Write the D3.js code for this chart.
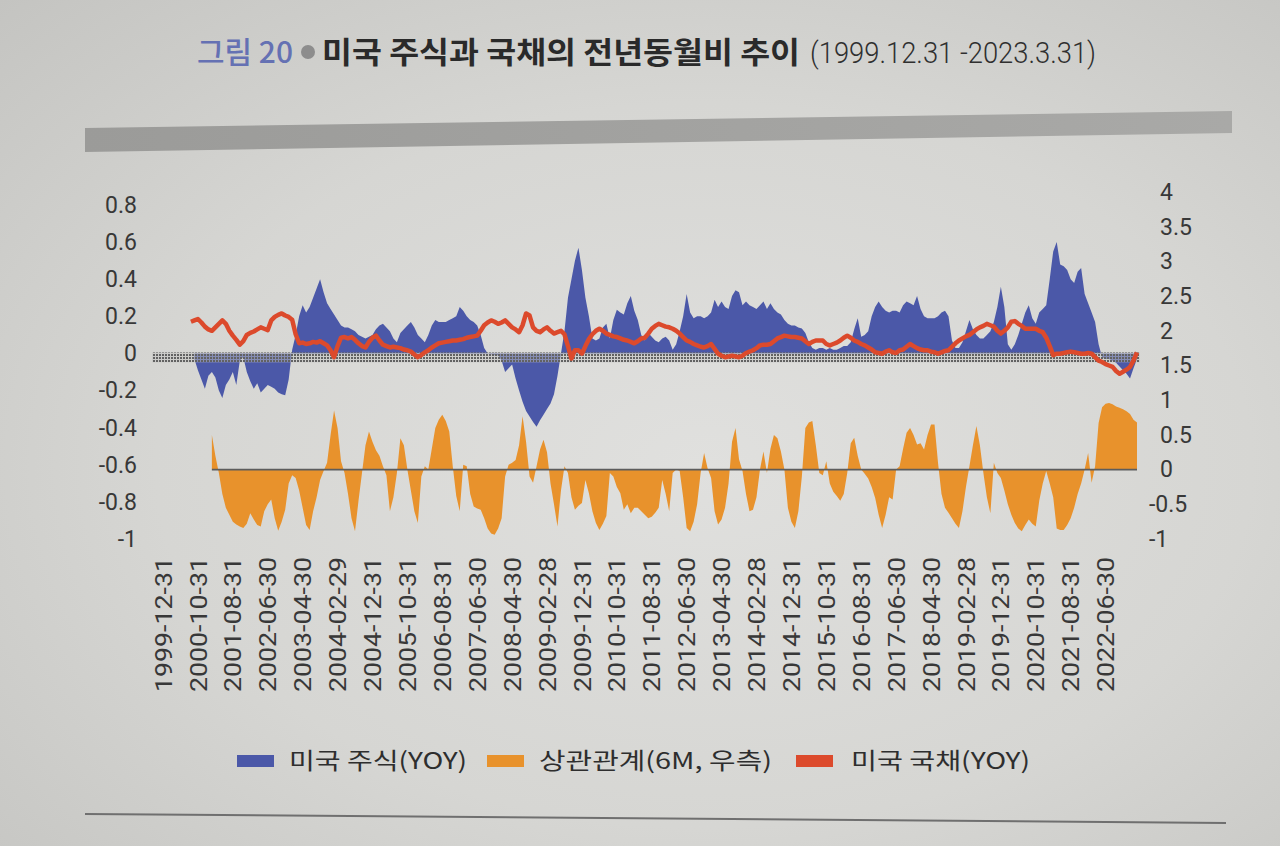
<!DOCTYPE html>
<html>
<head>
<meta charset="utf-8">
<script src="https://cdn.jsdelivr.net/npm/d3@7"></script>
<style>
  html, body { margin: 0; padding: 0; }
  body {
    width: 1280px; height: 846px; overflow: hidden;
    background: radial-gradient(ellipse at 55% 55%, #e0e0de 0%, #d6d6d3 55%, #c4c4c1 100%);
  }
  svg { display: block; }
</style>
</head>
<body>
<svg id="chart" width="1280" height="846"></svg>
<script>
// ---------- data (monthly, 1999-12 .. 2023-03, 280 points) ----------
const startMonth = "1999-12";
const monthCount = 280;

const tickLabels = [
  "1999-12-31", "2000-10-31", "2001-08-31", "2002-06-30", "2003-04-30", "2004-02-29",
  "2004-12-31", "2005-10-31", "2006-08-31", "2007-06-30", "2008-04-30", "2009-02-28",
  "2009-12-31", "2010-10-31", "2011-08-31", "2012-06-30", "2013-04-30", "2014-02-28",
  "2014-12-31", "2015-10-31", "2016-08-31", "2017-06-30", "2018-04-30", "2019-02-28",
  "2019-12-31", "2020-10-31", "2021-08-31", "2022-06-30"
];

const leftTicks = [0.8, 0.6, 0.4, 0.2, 0, -0.2, -0.4, -0.6, -0.8, -1];
const rightTicks = [4, 3.5, 3, 2.5, 2, 1.5, 1, 0.5, 0, -0.5, -1];

// 미국 주식(YOY), left axis
const stockYoY = [
  null, null, null, null, null, null, null, null, null, -0.03,
  -0.09, -0.14, -0.19, -0.12, -0.10, -0.13, -0.20, -0.24, -0.17, -0.14,
  -0.10, -0.17, -0.04, -0.02, -0.10, -0.15, -0.19, -0.16, -0.21, -0.19,
  -0.17, -0.18, -0.19, -0.21, -0.22, -0.225, -0.14, 0.02, 0.10, 0.20,
  0.26, 0.22, 0.25, 0.30, 0.35, 0.40, 0.33, 0.27, 0.24, 0.21,
  0.18, 0.15, 0.14, 0.14, 0.13, 0.12, 0.10, 0.09, 0.08, 0.09,
  0.10, 0.13, 0.15, 0.16, 0.14, 0.12, 0.08, 0.06, 0.11, 0.13,
  0.15, 0.17, 0.14, 0.10, 0.08, 0.06, 0.10, 0.15, 0.18, 0.17,
  0.17, 0.17, 0.18, 0.19, 0.20, 0.25, 0.23, 0.20, 0.18, 0.17,
  0.15, 0.10, 0.03, 0.00, -0.005, -0.01, -0.01, -0.04, -0.10, -0.08,
  -0.06, -0.135, -0.20, -0.26, -0.31, -0.34, -0.37, -0.395, -0.36, -0.33,
  -0.30, -0.27, -0.22, -0.12, 0.00, 0.12, 0.30, 0.40, 0.50, 0.57,
  0.45, 0.30, 0.20, 0.08, 0.07, 0.08, 0.14, 0.16, 0.08, 0.18,
  0.235, 0.22, 0.21, 0.27, 0.31, 0.23, 0.18, 0.10, 0.07, 0.11,
  0.09, 0.07, 0.06, 0.08, 0.09, 0.07, 0.02, 0.05, 0.12, 0.20,
  0.32, 0.22, 0.19, 0.20, 0.20, 0.19, 0.20, 0.22, 0.29, 0.25,
  0.28, 0.25, 0.24, 0.31, 0.34, 0.33, 0.26, 0.28, 0.26, 0.25,
  0.24, 0.26, 0.28, 0.24, 0.27, 0.24, 0.22, 0.21, 0.18, 0.16,
  0.15, 0.15, 0.14, 0.135, 0.11, 0.06, 0.03, 0.02, 0.03, 0.03,
  0.02, 0.03, 0.02, 0.02, 0.03, 0.04, 0.04, 0.06, 0.13, 0.19,
  0.09, 0.10, 0.12, 0.20, 0.25, 0.28, 0.25, 0.23, 0.22, 0.23,
  0.23, 0.22, 0.26, 0.28, 0.27, 0.26, 0.31, 0.24, 0.20, 0.19,
  0.19, 0.19, 0.20, 0.22, 0.23, 0.20, 0.07, 0.03, 0.03, 0.06,
  0.12, 0.18, 0.13, 0.10, 0.08, 0.08, 0.10, 0.12, 0.17, 0.25,
  0.36, 0.25, 0.05, 0.02, 0.05, 0.10, 0.16, 0.22, 0.26, 0.19,
  0.16, 0.22, 0.24, 0.26, 0.40, 0.55, 0.60, 0.48, 0.47, 0.45,
  0.40, 0.38, 0.44, 0.46, 0.32, 0.27, 0.22, 0.17, 0.05, -0.02,
  -0.03, -0.03, -0.04, -0.05, -0.07, -0.09, -0.11, -0.135, -0.08, -0.03
];

// 상관관계(6M, 우측), right axis
const corr6M = [
  null, null, null, null, null, null, null, null, null, null,
  null, null, null, null, 0.50, 0.20, -0.05, -0.35, -0.55, -0.65,
  -0.75, -0.79, -0.82, -0.84, -0.78, -0.63, -0.72, -0.80, -0.82, -0.60,
  -0.50, -0.43, -0.70, -0.88, -0.75, -0.58, -0.20, -0.08, -0.12, -0.30,
  -0.55, -0.80, -0.87, -0.60, -0.40, -0.15, -0.02, 0.10, 0.50, 0.85,
  0.60, 0.12, -0.05, -0.35, -0.70, -0.89, -0.45, -0.05, 0.35, 0.55,
  0.40, 0.28, 0.20, 0.05, -0.08, -0.60, -0.40, -0.05, 0.45, 0.35,
  0.00, -0.30, -0.60, -0.77, -0.10, 0.05, 0.00, 0.30, 0.60, 0.72,
  0.79, 0.70, 0.55, 0.05, -0.38, -0.60, 0.07, 0.05, -0.35, -0.53,
  -0.56, -0.58, -0.70, -0.85, -0.92, -0.94, -0.85, -0.70, -0.10, 0.07,
  0.10, 0.14, 0.35, 0.77, 0.40, -0.10, -0.19, 0.05, 0.29, 0.43,
  0.25, -0.20, -0.50, -0.82, -0.30, 0.05, -0.05, -0.40, -0.58, -0.52,
  -0.48, -0.15, -0.34, -0.60, -0.77, -0.87, -0.78, -0.67, -0.05, -0.10,
  -0.25, -0.34, -0.58, -0.50, -0.63, -0.55, -0.55, -0.60, -0.65, -0.70,
  -0.68, -0.62, -0.55, -0.15, -0.35, -0.60, -0.05, 0.00, -0.02, -0.40,
  -0.84, -0.89, -0.75, -0.50, -0.05, 0.24, 0.02, -0.12, -0.60, -0.79,
  -0.72, -0.55, -0.20, 0.40, 0.60, 0.15, -0.02, -0.35, -0.60, -0.58,
  -0.40, 0.00, 0.26, -0.05, 0.30, 0.50, 0.45, 0.26, 0.00, -0.55,
  -0.75, -0.84, -0.60, -0.10, 0.60, 0.68, 0.70, 0.35, -0.05, -0.08,
  0.12, -0.20, -0.32, -0.38, -0.45, -0.35, -0.05, 0.38, 0.46, 0.20,
  0.00, -0.06, -0.13, -0.25, -0.41, -0.65, -0.84, -0.65, -0.40, -0.43,
  0.00, 0.05, 0.30, 0.53, 0.60, 0.50, 0.36, 0.38, 0.29, 0.50,
  0.65, 0.65, 0.10, -0.35, -0.55, -0.62, -0.70, -0.78, -0.84, -0.60,
  -0.25, 0.05, 0.35, 0.63, 0.35, -0.05, -0.40, -0.63, 0.10, -0.05,
  -0.12, -0.30, -0.50, -0.65, -0.77, -0.85, -0.89, -0.80, -0.72, -0.78,
  -0.82, -0.45, -0.20, -0.02, -0.20, -0.40, -0.85, -0.87, -0.87, -0.80,
  -0.70, -0.55, -0.35, -0.20, 0.00, 0.24, -0.19, 0.05, 0.67, 0.90,
  0.95, 0.96, 0.94, 0.91, 0.89, 0.87, 0.84, 0.80, 0.72, 0.68
];

// 미국 국채(YOY), right axis
const bondYoY = [
  null, null, null, null, null, null, null, null, 2.13, 2.15,
  2.17, 2.12, 2.06, 2.02, 2.00, 2.05, 2.10, 2.15, 2.10, 2.00,
  1.93, 1.87, 1.80, 1.85, 1.94, 1.97, 1.99, 2.02, 2.05, 2.03,
  2.01, 2.15, 2.20, 2.23, 2.25, 2.22, 2.20, 2.16, 1.95, 1.82,
  1.83, 1.81, 1.82, 1.84, 1.83, 1.85, 1.82, 1.79, 1.72, 1.62,
  1.78, 1.90, 1.91, 1.89, 1.91, 1.87, 1.82, 1.78, 1.76, 1.84,
  1.90, 1.93, 1.86, 1.80, 1.78, 1.76, 1.77, 1.76, 1.75, 1.73,
  1.72, 1.70, 1.66, 1.62, 1.65, 1.69, 1.72, 1.76, 1.79, 1.82,
  1.83, 1.84, 1.85, 1.86, 1.86, 1.87, 1.88, 1.90, 1.91, 1.92,
  1.93, 2.00, 2.08, 2.12, 2.15, 2.13, 2.10, 2.12, 2.15, 2.10,
  2.05, 2.02, 1.98, 2.08, 2.25, 2.22, 2.05, 2.00, 1.98, 2.02,
  2.05, 2.00, 1.96, 1.98, 2.00, 1.95, 1.78, 1.60, 1.72, 1.72,
  1.67, 1.78, 1.88, 1.95, 2.00, 2.03, 2.00, 1.96, 1.94, 1.92,
  1.91, 1.89, 1.87, 1.86, 1.84, 1.82, 1.85, 1.89, 1.90, 1.96,
  2.03, 2.07, 2.10, 2.08, 2.06, 2.05, 2.03, 2.00, 1.96, 1.91,
  1.86, 1.84, 1.81, 1.79, 1.77, 1.76, 1.78, 1.81, 1.74, 1.67,
  1.64, 1.62, 1.63, 1.64, 1.63, 1.62, 1.64, 1.68, 1.70, 1.72,
  1.75, 1.79, 1.80, 1.80, 1.81, 1.85, 1.89, 1.91, 1.93, 1.92,
  1.91, 1.91, 1.90, 1.89, 1.85, 1.81, 1.84, 1.86, 1.86, 1.86,
  1.81, 1.79, 1.81, 1.83, 1.86, 1.90, 1.93, 1.90, 1.86, 1.84,
  1.81, 1.79, 1.76, 1.73, 1.69, 1.68, 1.67, 1.70, 1.72, 1.69,
  1.68, 1.72, 1.73, 1.77, 1.81, 1.78, 1.75, 1.73, 1.72, 1.72,
  1.70, 1.69, 1.67, 1.69, 1.71, 1.72, 1.77, 1.82, 1.86, 1.89,
  1.92, 1.94, 1.98, 2.02, 2.05, 2.07, 2.10, 2.08, 2.06, 2.00,
  1.96, 2.00, 2.05, 2.13, 2.14, 2.10, 2.07, 2.03, 2.03, 2.03,
  2.03, 2.00, 1.98, 1.90, 1.78, 1.65, 1.67, 1.67, 1.68, 1.69,
  1.70, 1.69, 1.68, 1.67, 1.67, 1.68, 1.67, 1.62, 1.57, 1.55,
  1.52, 1.50, 1.48, 1.42, 1.38, 1.41, 1.44, 1.48, 1.57, 1.69
];

const legendItems = ["미국 주식(YOY)", "상관관계(6M, 우측)", "미국 국채(YOY)"];

// ---------- setup ----------
const colors = { stock: "#4b58a8", corr: "#e8922c", bond: "#dc4a2c", text: "#383838" };
const numFont = "Roboto, 'DejaVu Sans', sans-serif";
const krFont = "'Noto Sans CJK KR', 'Noto Sans', sans-serif";

const svg = d3.select("#chart");

// month-end categories
const parseM = d3.utcParse("%Y-%m");
const months = d3.utcMonth.range(parseM(startMonth), d3.utcMonth.offset(parseM(startMonth), monthCount));
const fmtDay = d3.utcFormat("%Y-%m-%d");
const categories = months.map(m => fmtDay(d3.utcDay.offset(d3.utcMonth.offset(m, 1), -1)));

const x = d3.scaleLinear().domain([0, monthCount - 1]).range([163, 1137]);
const yL = d3.scaleLinear().domain([-1, 0.8]).range([539, 205]);
const yR = d3.scaleLinear().domain([-1, 4]).range([539, 192]);

// ---------- page decorations ----------
const defs = svg.append("defs");
const barGrad = defs.append("linearGradient").attr("id", "barGrad").attr("x1", 0).attr("x2", 1);
barGrad.append("stop").attr("offset", "0%").attr("stop-color", "#9b9b99");
barGrad.append("stop").attr("offset", "100%").attr("stop-color", "#a9a9a7");

svg.append("polygon")
  .attr("points", "85,128 1232,111 1232,133 85,152")
  .attr("fill", "url(#barGrad)");

svg.append("line")
  .attr("x1", 85).attr("y1", 814).attr("x2", 1226).attr("y2", 823)
  .attr("stroke", "#6f6f6f").attr("stroke-width", 2);

// ---------- title ----------
const title = svg.append("g");
title.append("text")
  .attr("x", 197).attr("y", 63)
  .attr("font-family", krFont).attr("font-size", 30).attr("font-weight", 500)
  .attr("fill", "#6571b3")
  .attr("textLength", 96).attr("lengthAdjust", "spacingAndGlyphs")
  .text("그림 20");
title.append("circle").attr("cx", 308).attr("cy", 52).attr("r", 7).attr("fill", "#8d8d8d");
title.append("text")
  .attr("x", 322).attr("y", 63)
  .attr("font-family", krFont).attr("font-size", 30).attr("font-weight", 700)
  .attr("fill", "#2a2a2a")
  .attr("textLength", 478).attr("lengthAdjust", "spacingAndGlyphs")
  .text("미국 주식과 국채의 전년동월비 추이");
title.append("text")
  .attr("x", 810).attr("y", 63)
  .attr("font-family", numFont).attr("font-size", 29).attr("font-weight", 300)
  .attr("fill", "#2f2f2f")
  .attr("textLength", 286).attr("lengthAdjust", "spacingAndGlyphs")
  .text("(1999.12.31 -2023.3.31)");

// ---------- marks ----------
const areaStock = d3.area()
  .defined(d => d != null)
  .x((d, i) => x(i))
  .y0(yL(0))
  .y1(d => yL(d));

const areaCorr = d3.area()
  .defined(d => d != null)
  .x((d, i) => x(i))
  .y0(yR(0))
  .y1(d => yR(d));

const lineBond = d3.line()
  .defined(d => d != null)
  .x((d, i) => x(i))
  .y(d => yR(d));

svg.append("path").datum(corr6M)
  .attr("d", areaCorr).attr("fill", colors.corr);

// thin baseline under the correlation area
const firstCorr = corr6M.findIndex(d => d != null);
svg.append("line")
  .attr("x1", x(firstCorr)).attr("x2", x(monthCount - 1))
  .attr("y1", yR(0)).attr("y2", yR(0))
  .attr("stroke", "#5c5c5c").attr("stroke-width", 1.6);

svg.append("path").datum(stockYoY)
  .attr("d", areaStock).attr("fill", colors.stock);

// hatched zero band of the left axis
const pat = defs.append("pattern").attr("id", "hatch")
  .attr("width", 3).attr("height", 3).attr("patternUnits", "userSpaceOnUse");
pat.append("rect").attr("width", 3).attr("height", 3).attr("fill", "#c0c0be").attr("opacity", 0.5);
pat.append("rect").attr("width", 2).attr("height", 2).attr("fill", "#626262");

svg.append("rect")
  .attr("x", 152).attr("width", 1140 - 152)
  .attr("y", yL(0) - 1).attr("height", 10)
  .attr("fill", "url(#hatch)");

svg.append("path").datum(bondYoY)
  .attr("d", lineBond)
  .attr("fill", "none").attr("stroke", colors.bond)
  .attr("stroke-width", 4.5).attr("stroke-linejoin", "round");

// ---------- axes ----------
const axL = svg.append("g")
  .attr("transform", "translate(140,0)")
  .call(d3.axisLeft(yL).tickValues(leftTicks).tickSize(0).tickPadding(3).tickFormat(d => String(d)));
axL.select(".domain").remove();
axL.selectAll("text")
  .attr("font-family", numFont).attr("font-size", 23).attr("fill", colors.text);

const axR = svg.append("g")
  .attr("transform", "translate(1158,0)")
  .call(d3.axisRight(yR).tickValues(rightTicks).tickSize(0).tickPadding(2).tickFormat(d => String(d)));
axR.select(".domain").remove();
axR.selectAll("text")
  .attr("font-family", numFont).attr("font-size", 23).attr("fill", colors.text)
  .attr("dx", d => d < 0 ? -11 : 0);

const xLab = svg.append("g");
tickLabels.forEach(lbl => {
  const i = categories.indexOf(lbl);
  xLab.append("text")
    .attr("transform", `translate(${x(i)},557) rotate(-90)`)
    .attr("text-anchor", "end")
    .attr("dy", "0.36em")
    .attr("font-family", numFont).attr("font-size", 24).attr("fill", colors.text)
    .attr("textLength", 135).attr("lengthAdjust", "spacingAndGlyphs")
    .text(lbl);
});

// ---------- legend ----------
const legend = svg.append("g");
const legendLayout = [
  { sw: 237, tx: 289, w: 178, color: colors.stock },
  { sw: 487, tx: 539, w: 233, color: colors.corr },
  { sw: 796, tx: 851, w: 179, color: colors.bond }
];
legendItems.forEach((name, k) => {
  const p = legendLayout[k];
  legend.append("rect")
    .attr("x", p.sw).attr("y", 755).attr("width", 37).attr("height", 12)
    .attr("fill", p.color);
  legend.append("text")
    .attr("x", p.tx).attr("y", 769)
    .attr("font-family", krFont).attr("font-size", 23).attr("fill", "#2e2e2e")
    .attr("textLength", p.w).attr("lengthAdjust", "spacingAndGlyphs")
    .text(name);
});
</script>
</body>
</html>
